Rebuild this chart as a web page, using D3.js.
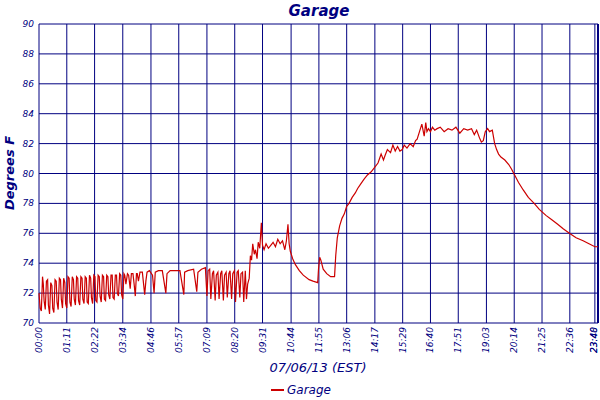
<!DOCTYPE html><html><head><meta charset="utf-8">
<script src="https://cdn.jsdelivr.net/npm/d3@7"></script>
<style>body{margin:0;background:#fff}text{font-family:"DejaVu Sans",sans-serif;fill:#000080;font-style:italic}</style></head><body>
<svg id="c" width="600" height="400"></svg>
<script>
const title="Garage";
const yTicks=[70,72,74,76,78,80,82,84,86,88,90];
const xTickMinutes=[0,71,142,214,286,357,429,500,571,644,715,786,858,929,1000,1071,1143,1214,1285,1356,1420,1428];
const xTickLabels=["00:00","01:11","02:22","03:34","04:46","05:57","07:09","08:20","09:31","10:44","11:55","13:06","14:17","15:29","16:40","17:51","19:03","20:14","21:25","22:36","23:40","23:48"];
// [minute, degrees F]
const readings=[
[0,72.0],[3,71.0],[6,70.8],[9,73.1],[11,72.6],[13,71.5],[16,70.9],[19,72.8],[22,72.9],[24,71.2],
[27,70.6],[30,72.7],[33,72.5],[35,71.0],[38,70.7],[41,72.9],[44,72.8],[46,71.4],[49,70.9],[52,73.0],
[55,72.9],[57,71.6],[60,71.0],[63,73.0],[66,72.7],[68,71.3],[71,71.0],[74,73.1],[77,73.0],[79,71.4],
[82,71.1],[85,73.1],[88,72.9],[90,71.6],[93,71.2],[96,73.1],[99,73.0],[101,71.5],[104,71.2],[107,73.1],
[110,73.0],[112,71.6],[115,71.3],[118,73.1],[121,73.0],[123,71.4],[126,71.3],[129,73.2],[132,73.0],[134,71.7],
[137,71.3],[140,73.2],[143,73.1],[145,71.5],[148,71.4],[151,73.2],[154,73.1],[156,71.8],[159,71.4],[162,73.2],
[165,73.1],[167,71.6],[170,71.5],[173,73.2],[176,73.1],[178,71.9],[181,71.6],[184,73.2],[187,73.2],[189,71.7],
[192,71.6],[195,73.2],[198,73.2],[200,72.0],[203,71.8],[206,73.3],[209,73.2],[211,71.9],[214,71.6],[217,73.3],
[219,73.2],[222,72.6],[226,73.3],[229,73.2],[233,72.3],[236,73.3],[240,73.3],[243,72.6],[246,71.8],[249,73.3],
[251,73.3],[254,72.8],[258,73.4],[264,73.4],[270,71.9],[273,72.8],[276,73.4],[282,73.5],[290,73.2],[294,72.0],
[297,73.4],[305,73.5],[315,73.5],[324,72.0],[327,73.3],[335,73.5],[350,73.5],[360,73.5],[370,71.9],[372,73.4],
[380,73.5],[395,73.6],[403,72.1],[406,73.4],[415,73.6],[425,73.7],[429,71.8],[432,73.5],[436,73.6],[439,71.6],
[443,73.3],[446,73.5],[450,71.5],[453,73.2],[457,73.4],[460,71.6],[464,73.3],[467,73.5],[471,71.5],[474,73.2],
[478,73.4],[481,71.7],[485,73.3],[488,73.5],[492,71.6],[495,73.3],[499,73.5],[502,71.4],[506,73.4],[509,73.5],
[513,71.7],[516,73.3],[520,73.4],[523,71.4],[527,73.5],[530,71.6],[533,72.6],[537,73.0],[540,74.5],[543,74.2],
[546,75.3],[550,74.6],[553,74.9],[557,74.3],[560,75.4],[564,75.0],[568,76.7],[571,75.2],[575,74.9],[580,75.3],
[586,75.0],[592,75.2],[598,75.4],[604,75.1],[610,75.6],[616,75.3],[622,75.5],[628,74.9],[632,75.5],[636,76.6],
[639,75.3],[642,74.8],[648,74.3],[655,73.9],[665,73.5],[675,73.2],[690,72.9],[700,72.8],[712,72.7],[714,73.6],
[717,74.4],[720,74.2],[726,73.6],[735,73.3],[745,73.1],[755,73.1],[758,74.5],[762,75.7],[768,76.5],[774,77.0],
[780,77.3],[786,77.8],[792,78.0],[800,78.4],[808,78.7],[814,79.0],[822,79.3],[830,79.6],[839,79.9],[848,80.1],
[857,80.4],[866,80.7],[874,81.3],[880,80.9],[884,81.2],[890,81.6],[898,81.4],[904,81.9],[910,81.5],[916,81.8],
[922,81.5],[928,81.6],[933,81.9],[940,81.7],[948,82.0],[956,81.8],[962,82.2],[966,82.3],[972,82.8],[978,83.3],
[984,82.5],[988,83.4],[991,82.8],[995,83.0],[1000,82.8],[1005,83.1],[1011,82.9],[1017,83.0],[1025,83.1],[1035,82.8],
[1045,83.0],[1055,82.9],[1065,83.1],[1075,82.7],[1085,83.0],[1095,82.9],[1105,83.0],[1112,82.6],[1118,82.9],[1125,82.4],
[1130,82.1],[1135,82.2],[1140,82.8],[1146,83.0],[1151,82.8],[1158,82.9],[1164,82.0],[1169,81.6],[1174,81.3],[1180,81.1],
[1190,80.9],[1200,80.6],[1207,80.3],[1215,79.9],[1225,79.4],[1237,78.9],[1250,78.4],[1265,78.0],[1278,77.6],[1295,77.2],
[1310,76.9],[1325,76.6],[1339,76.3],[1355,76.0],[1372,75.7],[1390,75.5],[1405,75.3],[1420,75.1],[1428,75.1]];

const svg=d3.select("#c");
const m={l:39,r:598,t:24,b:323};
const x=d3.scaleLinear().domain([0,1428]).range([m.l,m.r]);
const y=d3.scaleLinear().domain([70,90]).range([m.b,m.t]);
const navy="#000080";
const g=svg.append("g");
g.selectAll(".h").data(yTicks).join("line").attr("x1",m.l).attr("x2",m.r).attr("y1",d=>y(d)).attr("y2",d=>y(d)).attr("stroke",navy);
g.selectAll(".v").data(xTickMinutes).join("line").attr("x1",d=>x(d)).attr("x2",d=>x(d)).attr("y1",m.t).attr("y2",m.b).attr("stroke",navy);
g.append("line").attr("x1",m.r).attr("x2",m.r).attr("y1",m.t).attr("y2",m.b).attr("stroke",navy).attr("stroke-width",2);
svg.selectAll(".yl").data(yTicks).join("text").attr("x",m.l-5).attr("y",d=>y(d)+3).attr("text-anchor","end").attr("font-size",9).text(d=>d);
svg.selectAll(".xl").data(xTickMinutes).join("text").attr("transform",d=>`translate(${Math.min(x(d)+3,597)},${m.b+4}) rotate(-90)`).attr("text-anchor","end").attr("font-size",9).text((d,i)=>xTickLabels[i]);
const line=d3.line().x(d=>x(d[0])).y(d=>y(d[1]));
svg.append("path").datum(readings).attr("d",line).attr("fill","none").attr("stroke","#cc0000").attr("stroke-width",1.2);
svg.append("text").attr("x",319).attr("y",16).attr("text-anchor","middle").attr("font-size",15).attr("font-weight","bold").text(title);
svg.append("text").attr("transform","translate(14,173) rotate(-90)").attr("text-anchor","middle").attr("font-size",13).attr("font-weight","bold").text("Degrees F");
svg.append("text").attr("x",318).attr("y",372).attr("text-anchor","middle").attr("font-size",13).text("07/06/13 (EST)");
svg.append("line").attr("x1",271).attr("x2",284).attr("y1",390).attr("y2",390).attr("stroke","#cc0000").attr("stroke-width",2);
svg.append("text").attr("x",287).attr("y",394).attr("font-size",12).text("Garage");
</script></body></html>
